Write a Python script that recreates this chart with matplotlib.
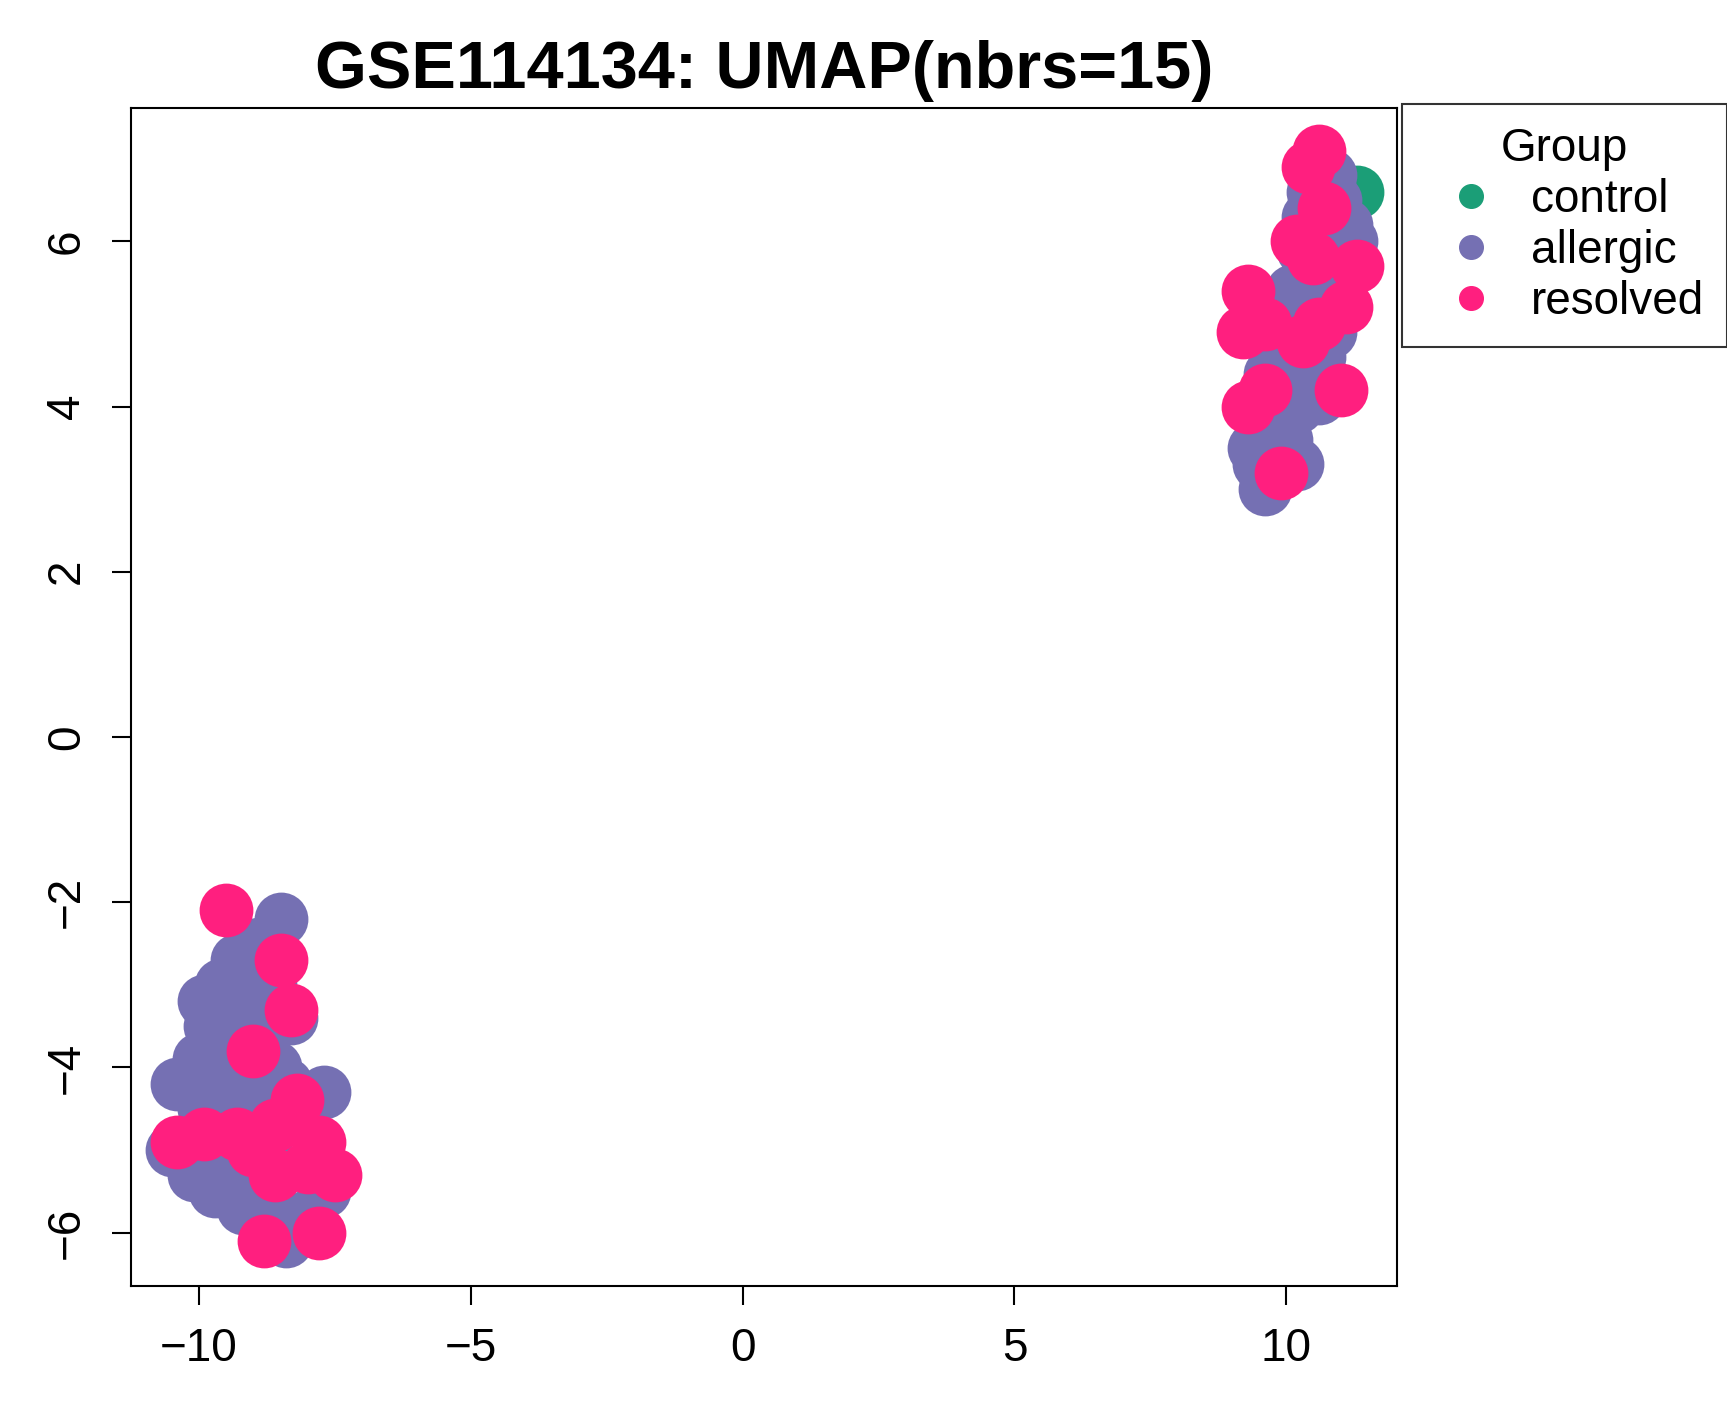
import matplotlib
matplotlib.use("Agg")
import matplotlib.pyplot as plt

plt.rcParams['font.family'] = ['Liberation Sans', 'DejaVu Sans']

groups = ["control", "allergic", "resolved"]
colors = {"control": "#1B9E77", "allergic": "#7570B3", "resolved": "#FF1F7F"}

control_x = [11.3]
control_y = [6.6]
allergic_x = [9.6, 9.5, 9.8, 9.6, 10.0, 10.2, 10.4, 10.6, 10.8, 10.9, 10.7, 11.0, 11.1, 10.9, 10.8, 10.5, 10.3, 10.1, 9.9, 9.7, 10.5, 9.4, 10.2, 11.2,
              10.0, 10.3, 10.6, 9.8, 10.4, 10.8, 11.0, 10.6,
              -10.4, -10.0, -9.8, -9.6, -9.3, -8.9, -8.5, -8.7, -9.1, -9.4, -9.0, -8.6, -10.5, -10.1, -9.7, -9.2, -8.8, -8.4, -8.0, -7.7, -7.7, -8.2, -9.5, -8.6, -8.3,
              -9.9, -9.5, -9.2, -8.9, -9.3, -8.8, -9.9, -8.4, -9.6, -8.9]
allergic_y = [3.0, 3.3, 3.5, 3.8, 3.6, 4.0, 4.3, 4.6, 4.9, 5.3, 5.6, 5.9, 6.2, 6.5, 6.8, 6.6, 5.9, 5.4, 4.9, 4.4, 5.1, 3.5, 3.3, 6.0,
              4.2, 4.6, 5.4, 4.6, 6.3, 6.0, 5.6, 4.1,
              -4.2, -3.9, -3.5, -3.0, -2.7, -2.5, -2.2, -3.0, -3.4, -4.0, -4.4, -4.0, -5.0, -5.3, -5.5, -5.7, -5.9, -6.1, -5.8, -5.5, -4.3, -4.6, -4.9, -5.2, -3.4,
              -4.5, -3.6, -3.0, -3.2, -5.2, -5.5, -3.2, -4.2, -4.2, -2.8]
resolved_x = [10.6, 10.4, 10.7, 10.2, 10.5, 11.3, 11.1, 9.3, 9.2, 9.6, 10.3, 10.6, 11.0, 9.3, 9.6, 9.9,
              -9.5, -8.5, -8.3, -9.0, -9.9, -10.4, -9.3, -8.6, -8.2, -7.8, -7.5, -8.0, -8.6, -8.8, -7.8, -9.0]
resolved_y = [7.1, 6.9, 6.4, 6.0, 5.8, 5.7, 5.2, 5.4, 4.9, 5.0, 4.8, 5.0, 4.2, 4.0, 4.2, 3.2,
              -2.1, -2.7, -3.3, -3.8, -4.8, -4.9, -4.8, -4.7, -4.4, -4.9, -5.3, -5.2, -5.3, -6.1, -6.0, -5.0]

xticks = [-10, -5, 0, 5, 10]
yticks = [-6, -4, -2, 0, 2, 4, 6]

fig = plt.figure(figsize=(17.27, 14.08), dpi=100)
ax = fig.add_axes([0.0756, 0.087, 0.7334, 0.8366])
s = 1500
ax.scatter(control_x, control_y, s=s, color=colors["control"], linewidths=0)
ax.scatter(allergic_x, allergic_y, s=s, color=colors["allergic"], linewidths=0)
ax.scatter(resolved_x, resolved_y, s=s, color=colors["resolved"], linewidths=0)
ax.set_xlim(-11.26, 12.04)
ax.set_ylim(-6.64, 7.62)
ax.set_xticks(xticks)
ax.set_yticks(yticks)
ax.set_xticklabels([str(t).replace('-', '\u2212') for t in xticks])
ax.set_yticklabels([str(t).replace('-', '\u2212') for t in yticks], rotation=90, va='center')
ax.tick_params(labelsize=33, length=14, width=1.5, pad=16)
for sp in ax.spines.values():
    sp.set_linewidth(1.5)
ax.set_title("GSE114134: UMAP(nbrs=15)", fontsize=48, fontweight='bold', pad=14)

handles = [plt.Line2D([], [], marker='o', linestyle='', color=colors[g], markersize=17) for g in groups]
leg = fig.legend(handles, groups, title="Group", loc='upper left', bbox_to_anchor=(0.812, 0.926),
                 fontsize=33, title_fontsize=33, frameon=True, fancybox=False, edgecolor='black',
                 handletextpad=0.3, borderpad=0.5, labelspacing=0.15, borderaxespad=0)
leg.get_frame().set_linewidth(1.5)
fig.savefig("out.png", dpi=100)
